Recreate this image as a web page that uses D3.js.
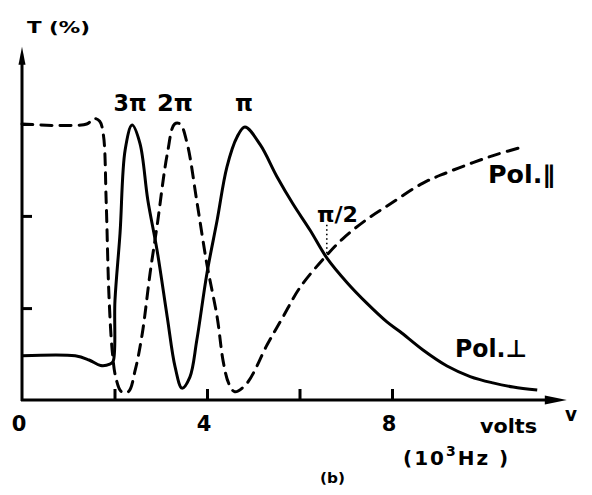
<!DOCTYPE html>
<html>
<head>
<meta charset="utf-8">
<script src="https://cdn.jsdelivr.net/npm/d3@7"></script>
<style>
  html, body { margin: 0; padding: 0; background: #fff; }
  svg { display: block; }
  text { font-family: "DejaVu Sans", sans-serif; font-weight: bold; fill: #000; }
</style>
</head>
<body>
<svg id="chart" width="592" height="495"></svg>
<script>
// ---- data ----
// Pol. ∥ (dashed)
const voltsPar = [0, 1.4, 1.55, 1.68, 1.76, 1.82, 1.88, 1.95, 2.03, 2.15, 2.3, 2.45, 2.6, 2.77, 2.92, 3.14, 3.3, 3.42, 3.57, 3.78, 4.0, 4.22, 4.35, 4.47, 4.6, 4.86, 5.3, 5.64, 6.0, 6.51, 6.94, 7.46, 7.96, 8.67, 9.19, 9.75, 10.27, 10.83];
const tPar     = [100, 100, 102, 101, 96, 72, 38, 18, 8, 3, 3, 11, 24, 46, 63, 89, 100, 100, 93, 72, 49, 30, 14, 6, 3, 6, 20, 30, 40.5, 51, 58.5, 65.5, 71, 78.6, 82.4, 86, 89, 91.7];
// Pol. ⊥ (solid)
const voltsPerp = [0, 1.15, 1.45, 1.7, 1.9, 1.97, 2.01, 2.12, 2.23, 2.38, 2.55, 2.72, 2.92, 3.14, 3.31, 3.46, 3.63, 3.78, 4.0, 4.22, 4.43, 4.65, 4.82, 5.15, 5.51, 5.86, 6.23, 6.59, 7.03, 7.46, 7.89, 8.17, 8.67, 9.19, 9.69, 10.18, 10.62, 11.14];
const tPerp     = [16, 16, 14.5, 12.5, 13, 14, 36, 60.5, 90.6, 99.6, 93, 72.5, 54.3, 30.1, 12, 4.3, 8.3, 21.7, 46, 65.2, 84.4, 95.3, 98.9, 92.5, 81, 71, 61.5, 51.5, 42.5, 35, 28.3, 24.8, 18.1, 12.3, 8.5, 6.2, 4.7, 3.6];

const xTicks = [2, 4, 6, 8];
const xTickLabels = [0, 4, 8];
const yTicks = [33.3, 66.7, 100];
const xMax = 11.78;   // end of the horizontal axis arrow
const yMax = 128;     // end of the vertical axis arrow

// peak annotations
const peakVolts = [2.38, 3.35, 4.82];
const peakLabels = ["3\u03C0", "2\u03C0", "\u03C0"];
const halfPiVolts = 6.59;
const halfPiT = 51;

// ---- drawing ----
const svg = d3.select("#chart");
const x = d3.scaleLinear().domain([0, 8]).range([22, 392]);
const y = d3.scaleLinear().domain([0, 100]).range([400, 124]);

const line = d3.line().x(d => x(d[0])).y(d => y(d[1])).curve(d3.curveCatmullRom.alpha(0.5));

const parData = voltsPar.map((v, i) => [v, tPar[i]]);
const perpData = voltsPerp.map((v, i) => [v, tPerp[i]]);

// ticks via d3 axis generators (ticks point inward)
const gx = svg.append("g").attr("transform", `translate(0,${y(0)})`)
  .call(d3.axisBottom(x).tickValues(xTicks).tickSize(-11).tickFormat(""));
gx.select(".domain").remove();
gx.selectAll(".tick line").attr("stroke", "#000").attr("stroke-width", 3);

const gy = svg.append("g").attr("transform", `translate(${x(0)},0)`)
  .call(d3.axisLeft(y).tickValues(yTicks).tickSize(-10).tickFormat(""));
gy.select(".domain").remove();
gy.selectAll(".tick line").attr("stroke", "#000").attr("stroke-width", 3);

// axis lines
svg.append("line").attr("x1", x(0) - 1).attr("y1", y(0)).attr("x2", x(xMax) - 18).attr("y2", y(0))
  .attr("stroke", "#000").attr("stroke-width", 3);
svg.append("line").attr("x1", x(0)).attr("y1", y(0) + 1).attr("x2", x(0)).attr("y2", y(yMax) + 14)
  .attr("stroke", "#000").attr("stroke-width", 3);

// arrow heads
const ax = x(xMax), ay = y(0);
svg.append("path").attr("d", `M${ax},${ay} L${ax - 22},${ay - 4.5} L${ax - 22},${ay + 4.5} Z`).attr("fill", "#000");
const bx = x(0), by = y(yMax);
svg.append("path").attr("d", `M${bx},${by} L${bx - 3.5},${by + 18} L${bx + 3.5},${by + 18} Z`).attr("fill", "#000");

// curves
svg.append("path").datum(perpData).attr("d", line)
  .attr("fill", "none").attr("stroke", "#000").attr("stroke-width", 3).attr("stroke-linejoin", "round");
svg.append("path").datum(parData).attr("d", line)
  .attr("fill", "none").attr("stroke", "#000").attr("stroke-width", 3)
  .attr("stroke-dasharray", "11,8").attr("stroke-linecap", "round");

// π/2 dotted marker
svg.append("line").attr("x1", x(halfPiVolts)).attr("x2", x(halfPiVolts))
  .attr("y1", y(halfPiT) - 6).attr("y2", y(halfPiT) - 36)
  .attr("stroke", "#000").attr("stroke-width", 1.6).attr("stroke-dasharray", "1.5,3");

// text helper
function label(tx, ty, str, size, len, anchor) {
  const t = svg.append("text").attr("x", tx).attr("y", ty).attr("font-size", size)
    .attr("text-anchor", anchor || "start").text(str);
  if (len) t.attr("textLength", len).attr("lengthAdjust", "spacingAndGlyphs");
  return t;
}

// axis titles
label(27, 33, "T (%)", 16, 63);
label(565, 421, "v", 19, 12);
label(480, 433, "volts", 19, 57);
const hz = svg.append("text").attr("x", 403).attr("y", 465).attr("font-size", 20)
  .attr("letter-spacing", 2);
hz.append("tspan").text("(10");
hz.append("tspan").attr("dy", -9).attr("font-size", 14).text("3");
hz.append("tspan").attr("dy", 9).text("Hz )");
label(320, 483, "(b)", 14, 25);

// x tick labels
xTickLabels.forEach(v => label(x(v) - 3, 431, String(v), 21, null, "middle"));

// peak labels
const peakW = [33, 36, 18];
peakLabels.forEach((s, i) => label(x(peakVolts[i]) - (i === 2 ? 1 : 2), 111, s, 23, peakW[i], "middle"));
label(317, 222, "\u03C0/2", 21, 41);

// curve labels
label(488, 183, "Pol.\u2225", 24, 67);
label(455, 357, "Pol.\u22A5", 24, 72);
</script>
</body>
</html>
